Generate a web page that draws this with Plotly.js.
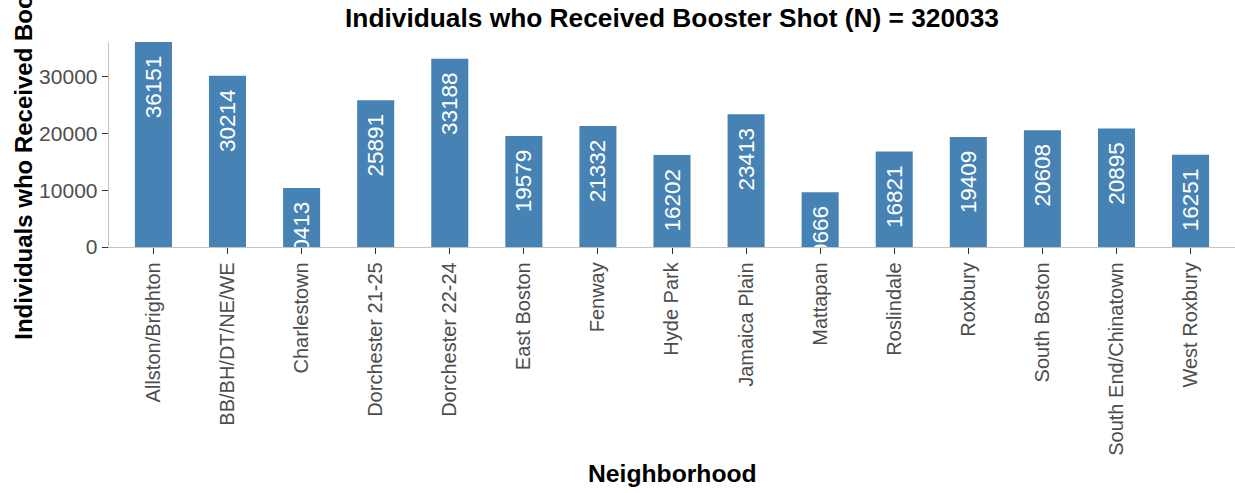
<!DOCTYPE html>
<html>
<head>
<meta charset="utf-8">
<script src="https://cdn.plot.ly/plotly-3.0.1.min.js"></script>
<style>html,body{margin:0;padding:0;background:#fff;}#chart{width:1235px;height:493px;}</style>
</head>
<body>
<div id="chart"></div>
<script>
const neighborhoods = ["Allston/Brighton","BB/BH/DT/NE/WE","Charlestown","Dorchester 21-25","Dorchester 22-24","East Boston","Fenway","Hyde Park","Jamaica Plain","Mattapan","Roslindale","Roxbury","South Boston","South End/Chinatown","West Roxbury"];
const boosted = [36151,30214,10413,25891,33188,19579,21332,16202,23413,9666,16821,19409,20608,20895,16251];
const yTicks = [0,10000,20000,30000];
const chartTitle = "Individuals who Received Booster Shot (N) = 320033";
const yTitle = "Individuals who Received Booster Shot";
const xTitle = "Neighborhood";

const FONT = "Liberation Sans, Arial, Helvetica, sans-serif";

const trace = {
  type: 'bar',
  x: neighborhoods,
  y: boosted,
  marker: {color: '#4682B4'},
  text: boosted.map(v => String(v) + '\u00a0\u2009'),
  textposition: 'inside',
  insidetextanchor: 'end',
  textangle: -90,
  constraintext: 'none',
  cliponaxis: true,
  insidetextfont: {family: FONT, size: 22.5, color: '#ffffff'},
  hoverinfo: 'x+y'
};

const layout = {
  width: 1235, height: 493,
  margin: {l: 109, r: 0, t: 42, b: 246, pad: 0},
  paper_bgcolor: '#ffffff', plot_bgcolor: '#ffffff',
  bargap: 0.5,
  showlegend: false,
  font: {family: FONT},
  title: {text: '<b>' + chartTitle + '</b>', font: {family: FONT, size: 26.3, color: '#000'}, x: 0.5, xref: 'paper', xanchor: 'center', y: 0.963, yref: 'container', yanchor: 'middle'},
  xaxis: {
    type: 'category', range: [-0.6, 14.6], fixedrange: true,
    showline: true, linecolor: '#c4c4c4', linewidth: 1.3,
    showgrid: false, zeroline: false,
    ticks: 'outside', ticklen: 6, tickwidth: 1, tickcolor: '#333',
    tickangle: -90, tickfont: {family: FONT, size: 20, color: '#4d4d4d'},
    automargin: false
  },
  yaxis: {
    range: [0, 36151], fixedrange: true,
    tickvals: yTicks, ticktext: yTicks.map(String),
    showline: true, linecolor: '#c4c4c4', linewidth: 1.3,
    showgrid: false, zeroline: false,
    ticks: 'outside', ticklen: 6, tickwidth: 1, tickcolor: '#333',
    tickfont: {family: FONT, size: 21, color: '#4d4d4d'},
    automargin: false
  },
  annotations: [
    {text: '<b>' + yTitle + '</b>', xref: 'paper', yref: 'paper', x: -0.0755, y: 0.645, xanchor: 'center', yanchor: 'middle', textangle: -90, showarrow: false, font: {family: FONT, size: 24, color: '#000'}},
    {text: '<b>' + xTitle + '</b>', xref: 'paper', yref: 'paper', x: 0.5, y: -1.107, xanchor: 'center', yanchor: 'middle', showarrow: false, font: {family: FONT, size: 24.7, color: '#000'}}
  ]
};

Plotly.newPlot('chart', [trace], layout, {displayModeBar: false, staticPlot: true});
</script>
</body>
</html>
